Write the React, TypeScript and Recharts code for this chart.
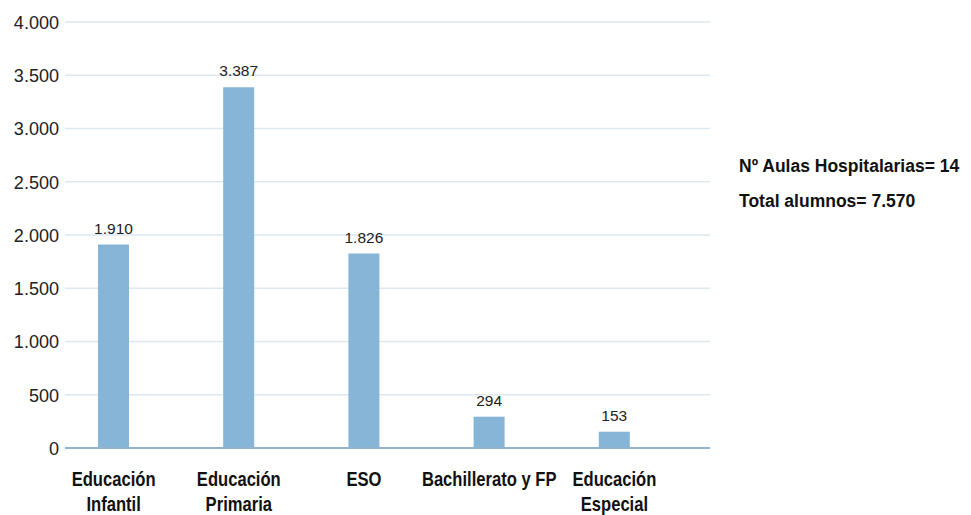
import { Bar, BarChart, CartesianGrid, LabelList, XAxis, YAxis } from "recharts";

const categories = ["Educación Infantil", "Educación Primaria", "ESO", "Bachillerato y FP", "Educación Especial"];
const categoryLines = [["Educación", "Infantil"], ["Educación", "Primaria"], ["ESO"], ["Bachillerato y FP"], ["Educación", "Especial"]];
const alumnos = [1910, 3387, 1826, 294, 153];
const yTicks = [0, 500, 1000, 1500, 2000, 2500, 3000, 3500, 4000];
const notes = ["Nº Aulas Hospitalarias= 14", "Total alumnos= 7.570"];

const data = categories.map((name, i) => ({ name, value: alumnos[i] }));

const FONT = '"Liberation Sans", Arial, sans-serif';
const fmt = (v: number) => String(v).replace(/\B(?=(\d{3})+(?!\d))/g, ".");

// the original uses a condensed face; squeeze Liberation Sans horizontally
function CategoryTick(props: any) {
  const { x, y, payload, index } = props;
  const lines = categoryLines[index] ?? [payload.value];
  return (
    <g transform={`translate(${x},${y}) scale(0.83,1)`}>
      <text x={0} y={0} textAnchor="middle" fontFamily={FONT} fontWeight="bold" fontSize={20} fill="#111">
        {lines.map((l: string, i: number) => (
          <tspan key={i} x={0} dy={i === 0 ? 30 : 25}>
            {l}
          </tspan>
        ))}
      </text>
    </g>
  );
}

function ValueTick(props: any) {
  const { x, y, payload } = props;
  return (
    <g transform={`translate(${x},${y}) scale(0.95,1)`}>
      <text x={0} y={0} dy="0.36em" textAnchor="end" fontFamily={FONT} fontSize={19} fill="#222">
        {fmt(payload.value)}
      </text>
    </g>
  );
}

export default function App() {
  return (
    <div style={{ position: "absolute", left: 0, top: 0, width: 971, height: 515, background: "#fff" }}>
      <BarChart width={971} height={515} data={data} margin={{ top: 22, right: 261, left: 0, bottom: 0 }} barSize={31}>
        <CartesianGrid vertical={false} stroke="#dde7f0" strokeWidth={1.5} />
        <XAxis
          dataKey="name"
          height={67}
          axisLine={{ stroke: "#8fb5d3", strokeWidth: 2 }}
          tickLine={false}
          tick={<CategoryTick />}
          interval={0}
          padding={{ left: -14, right: 33 }}
        />
        <YAxis
          width={65}
          domain={[0, 4000]}
          ticks={yTicks}
          axisLine={false}
          tickLine={false}
          tickMargin={0}
          tick={<ValueTick />}
        />
        <Bar dataKey="value" fill="#87b5d7" isAnimationActive={false}>
          <LabelList dataKey="value" position="top" offset={11} formatter={(v: any) => fmt(Number(v))} style={{ fontFamily: FONT, fontSize: 15.5, fill: "#222" }} />
        </Bar>
      </BarChart>
      {notes.map((n, i) => (
        <div
          key={i}
          style={{ position: "absolute", left: 739, top: 156 + i * 35, fontFamily: FONT, fontWeight: "bold", fontSize: 17.5, color: "#111", whiteSpace: "nowrap" }}
        >
          {n}
        </div>
      ))}
    </div>
  );
}
